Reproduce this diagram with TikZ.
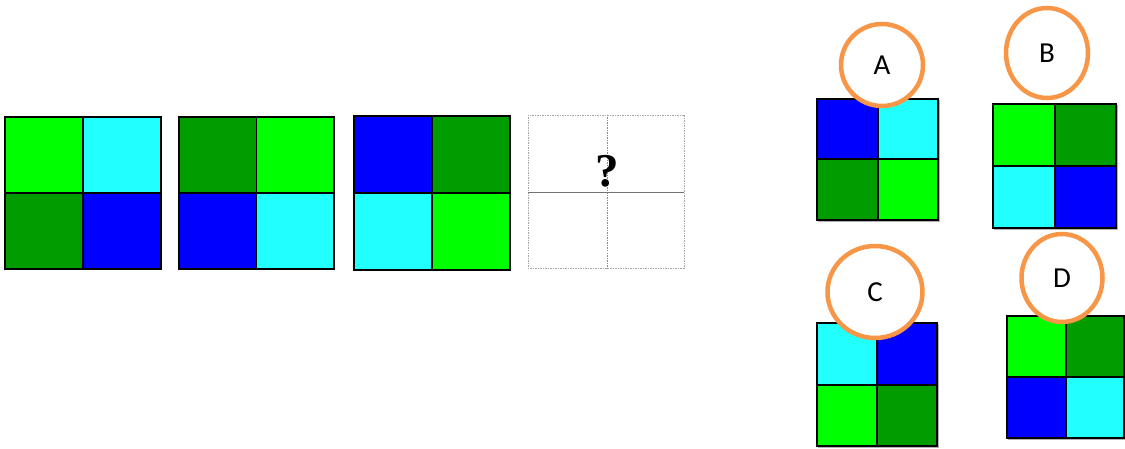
\documentclass[tikz,border=0pt]{standalone}
\usepackage{fontspec}
\setmainfont{Carlito}
\newfontfamily\qfont{Liberation Serif}
\usetikzlibrary{shapes.geometric}
\definecolor{lg}{HTML}{00FF00}
\definecolor{cy}{HTML}{22FFFF}
\definecolor{dg}{HTML}{009C00}
\definecolor{bl}{HTML}{0000FF}
\definecolor{orng}{HTML}{F79646}
% #1,#2 top-left; #3,#4 bottom-right; #5 TL, #6 TR, #7 BL, #8 BR; #9 line width
\newcommand\gridsq[9]{%
  \fill[#5] (#1,#2) rectangle ({(#1+#3)/2},{(#2+#4)/2});
  \fill[#6] ({(#1+#3)/2},#2) rectangle (#3,{(#2+#4)/2});
  \fill[#7] (#1,{(#2+#4)/2}) rectangle ({(#1+#3)/2},#4);
  \fill[#8] ({(#1+#3)/2},{(#2+#4)/2}) rectangle (#3,#4);
  \draw[line width=#9] ({(#1+#3)/2},#2) -- ({(#1+#3)/2},#4);
  \draw[line width=#9] (#1,{(#2+#4)/2}) -- (#3,{(#2+#4)/2});
  \draw[line width=#9] (#1,#2) rectangle (#3,#4);
}
\begin{document}
\begin{tikzpicture}[x=1pt,y=-1pt,
  optcircle/.style={ellipse, draw=orng, line width=4.5pt, fill=white,
    inner sep=0pt, font=\fontsize{29}{29}\selectfont},
  shadowline/.style={draw=black!30, line width=1.5pt}]
\useasboundingbox[fill=white] (0,0) rectangle (1125,449);

% puzzle sequence
\gridsq{5}{117}{161}{269}{lg}{cy}{dg}{bl}{1.2pt}
\gridsq{179}{117}{334}{269}{dg}{lg}{bl}{cy}{1.2pt}
\gridsq{354}{116}{510}{270}{bl}{dg}{cy}{lg}{1.2pt}

% question box
\draw[black!35, dash pattern=on 1.5pt off 1pt, line width=0.8pt] (528,115) rectangle (684,268);
\draw[black!45, dash pattern=on 1.5pt off 1pt, line width=0.8pt] (607,115) -- (607,268);
\draw[black!55, line width=0.9pt] (528,192) -- (684,192);
\node[font=\qfont\bfseries\fontsize{47}{47}\selectfont, inner sep=0pt] (q) at (607,171) {?};

% options
\draw[shadowline] (818,221.5) -- (939.5,221.5) -- (939.5,100);
\gridsq{817}{99}{938}{220}{bl}{cy}{dg}{lg}{2pt}
\draw[shadowline] (994,229.5) -- (1117.5,229.5) -- (1117.5,105);
\gridsq{993}{104}{1116}{228}{lg}{dg}{cy}{bl}{2pt}
\draw[shadowline] (818,447.5) -- (938.5,447.5) -- (938.5,324);
\gridsq{817}{323}{937}{446}{cy}{bl}{lg}{dg}{2pt}
\draw[shadowline] (1008,439.5) -- (1125,439.5);
\gridsq{1007}{316}{1124}{438}{lg}{dg}{bl}{cy}{2pt}

\node[optcircle, minimum width=82pt, minimum height=82pt] (cA) at (882,65) {A};
\node[optcircle, minimum width=82pt, minimum height=90pt] (cB) at (1047,53) {B};
\node[optcircle, minimum width=95pt, minimum height=92pt] (cC) at (875,292) {C};
\node[optcircle, minimum width=81pt, minimum height=88pt] (cD) at (1062,278) {D};
\end{tikzpicture}
\end{document}
